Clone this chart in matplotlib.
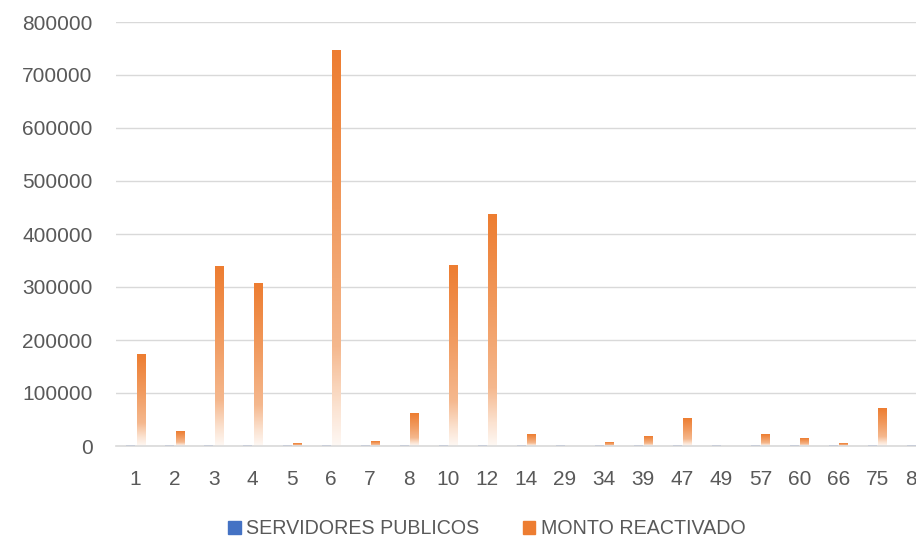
import numpy as np
import matplotlib.pyplot as plt
from matplotlib.colors import LinearSegmentedColormap
from matplotlib.patches import Patch

categories = ["1", "2", "3", "4", "5", "6", "7", "8", "10", "12", "14", "29",
              "34", "39", "47", "49", "57", "60", "66", "75", "84"]
servidores = [3, 1, 2, 2, 1, 3, 1, 1, 2, 2, 1, 1, 1, 1, 1, 1, 1, 1, 1, 1, 1]
monto = [172000, 26500, 338000, 307500, 4000, 747000, 8000, 60500, 340000,
         436000, 21000, 0, 5700, 17000, 51000, 0, 21000, 13500, 3800, 70000, 0]

plt.rcParams['font.family'] = ['Liberation Sans', 'DejaVu Sans']
text_col = "#595959"

fig = plt.figure(figsize=(9.16, 5.39), dpi=100)
ax = fig.add_axes([116/916, 93/539, 820/916, 424/539])

x = np.arange(len(categories))
w = 0.21
b1 = ax.bar(x - 0.13, servidores, w, color="#4472C4")
b2 = ax.bar(x + 0.13, monto, w, color="#ED7D31")

stops = {
    "#ED7D31": [(0, "#FEF8F4"), (0.1, "#FBE2D0"), (0.25, "#F5B88E"), (0.6, "#F19A5E"), (1, "#ED7D31")],
    "#4472C4": [(0, "#F6F8FC"), (0.1, "#DCE4F4"), (0.25, "#A9BFE6"), (0.6, "#7393D4"), (1, "#4472C4")],
}

def gradient(bars, color):
    cmap = LinearSegmentedColormap.from_list("g", stops[color])
    grad = np.linspace(0, 1, 256).reshape(-1, 1)
    for bar in bars:
        h = bar.get_height()
        if h <= 0:
            continue
        x0 = bar.get_x()
        ax.imshow(grad, extent=[x0, x0 + bar.get_width(), 0, h], origin="lower",
                  cmap=cmap, aspect="auto", zorder=2)
        bar.set_alpha(0)

gradient(b1, "#4472C4")
gradient(b2, "#ED7D31")

ax.set_xlim(-0.5, len(categories) - 0.5)
ax.set_ylim(0, 800000)
ax.set_yticks(np.arange(0, 800001, 100000))
ax.set_xticks(x)
ax.set_xticklabels(categories)
ax.grid(axis="y", color="#D9D9D9", linewidth=1)
ax.set_axisbelow(True)
for s in ["top", "right", "left"]:
    ax.spines[s].set_visible(False)
ax.spines["bottom"].set_color("#D9D9D9")
ax.spines["bottom"].set_linewidth(1.2)
ax.tick_params(length=0, labelcolor=text_col, labelsize=15)
ax.tick_params(axis="y", pad=17)
ax.tick_params(axis="x", pad=17)

handles = [Patch(color="#4472C4"), Patch(color="#ED7D31")]
fig.legend(handles, ["SERVIDORES PUBLICOS", "MONTO REACTIVADO"],
           loc="center", bbox_to_anchor=(487/916, 10/539), ncol=2, frameon=False,
           fontsize=14.1, labelcolor=text_col, handlelength=0.62, handleheight=0.62,
           handletextpad=0.3, columnspacing=2.2, borderpad=0)

fig.savefig("out.png", dpi=100)
